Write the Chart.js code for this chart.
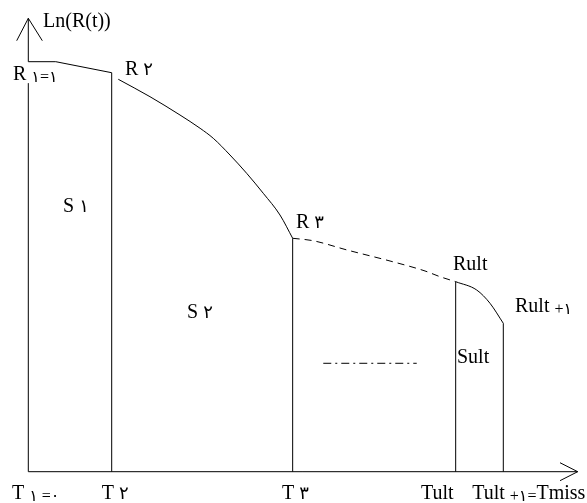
<!DOCTYPE html>
<html>
<head>
<meta charset="utf-8">
<script src="https://cdn.jsdelivr.net/npm/chart.js@4.4.0/dist/chart.umd.min.js"></script>
<style>
    body { margin: 0; background: #fff; }
</style>
</head>
<body>
<canvas id="lnRChart" width="587" height="503"></canvas>
<script>
// time marks on the horizontal axis (T1, T2, T3, Tult, Tult+1)
var tMarks = [0, 15.18, 48.12, 77.79, 86.46];
// Ln(R(t)) reached at each mark
var rMarks = [90.43, 88.0, 51.48, 41.91, 32.73];

// R1 -> R2 (nearly flat)
var seg1X = [0, 5.0, 15.18];
var seg1Y = [90.43, 90.43, 88.0];
// R2 -> R3
var seg2X = [16.38, 22.15, 27.61, 31.27, 33.67, 36.71, 39.75, 42.77, 45.81, 48.12];
var seg2Y = [86.55, 82.71, 78.67, 75.74, 73.53, 69.85, 65.81, 61.40, 56.62, 51.48];
// R3 -> Rult (dashed, intermediate steps)
var seg3X = [48.12, 51.82, 58.01, 65.84, 72.21, 74.94, 77.79];
var seg3Y = [51.48, 50.95, 48.90, 46.47, 44.27, 43.01, 41.91];
// Rult -> Rult+1
var seg4X = [77.79, 81.62, 84.04, 86.46];
var seg4Y = [41.91, 40.07, 37.14, 32.73];

// the "..." mark between T3 and Tult
var gapX = [53.69, 70.70];
var gapY = [23.91, 23.91];

var axisMax = 100;

var FA = "\u06F0\u06F1\u06F2\u06F3"; // persian digits 0..3
var d0 = FA[0], d1 = FA[1], d2 = FA[2], d3 = FA[3];

// labels: parts are [text, kind]  0 = normal, 1 = lowered small, 2 = digit
var notes = [
    {x: 2.68, y: 98.15, parts: [["Ln(R(t))", 0]]},
    {x: -2.78, y: 86.39, parts: [["R ", 0], [d1 + "=" + d1, 1]]},
    {x: 17.60, y: 87.49, parts: [["R ", 0], [d2, 2]]},
    {x: 6.32, y: 57.28, parts: [["S ", 0], [d1, 2]]},
    {x: 28.89, y: 33.90, parts: [["S ", 0], [d2, 2]]},
    {x: 48.73, y: 53.75, parts: [["R ", 0], [d3, 2]]},
    {x: 77.30, y: 44.49, parts: [["Rult", 0]]},
    {x: 88.59, y: 35.29, parts: [["Rult ", 0], ["+" + d1, 1]]},
    {x: 78.03, y: 23.97, parts: [["Sult", 0]]},
    {x: -2.97, y: -6.02, parts: [["T ", 0], [d1 + " =" + d0, 1]]},
    {x: 13.36, y: -6.02, parts: [["T ", 0], [d2, 2]]},
    {x: 46.18, y: -6.02, parts: [["T ", 0], [d3, 2]]},
    {x: 71.48, y: -6.02, parts: [["Tult", 0]]},
    {x: 80.80, y: -6.02, parts: [["Tult ", 0], ["+" + d1 + "=", 1], ["Tmiss", 0]]}
];

function pts(xs, ys) {
    var out = [];
    for (var i = 0; i < xs.length; i++) {
        out.push({x: xs[i], y: ys[i]});
    }
    return out;
}

function lineSet(data, extra) {
    var ds = {
        data: data,
        showLine: true,
        borderColor: "#000",
        borderWidth: 1,
        pointRadius: 0,
        tension: 0,
        clip: false,
        spanGaps: false
    };
    for (var k in extra) ds[k] = extra[k];
    return ds;
}

var smooth = {cubicInterpolationMode: "monotone"};

var datasets = [];
// axes with arrows
datasets.push(lineSet([{x: 0, y: 0}, {x: axisMax, y: 0}]));
datasets.push(lineSet([{x: axisMax - 3.22, y: 1.98}, {x: axisMax, y: 0}, {x: axisMax - 3.22, y: -1.98}]));
datasets.push(lineSet([{x: 0, y: 0}, {x: 0, y: 85.7}, {x: 0, y: null}, {x: 0, y: rMarks[0]}, {x: 0, y: axisMax}]));
datasets.push(lineSet([{x: -2.11, y: axisMax - 4.94}, {x: 0, y: axisMax}, {x: 2.55, y: axisMax - 4.94}]));
// verticals at T2..Tult+1
for (var i = 1; i < tMarks.length; i++) {
    datasets.push(lineSet([{x: tMarks[i], y: 0}, {x: tMarks[i], y: rMarks[i]}]));
}
datasets.push(lineSet(pts(seg1X, seg1Y)));
datasets.push(lineSet(pts(seg2X, seg2Y), smooth));
datasets.push(lineSet(pts(seg3X, seg3Y), {cubicInterpolationMode: "monotone", borderDash: [7, 5]}));
datasets.push(lineSet(pts(seg4X, seg4Y), smooth));
datasets.push(lineSet(pts(gapX, gapY), {borderDash: [8, 4, 2, 4]}));

var notePlugin = {
    id: "notes",
    afterDatasetsDraw: function(chart) {
        var ctx = chart.ctx;
        var xs = chart.scales.x, ys = chart.scales.y;
        ctx.save();
        ctx.fillStyle = "#000";
        ctx.textBaseline = "alphabetic";
        ctx.textAlign = "left";
        notes.forEach(function(n) {
            var px = xs.getPixelForValue(n.x);
            var py = ys.getPixelForValue(n.y);
            n.parts.forEach(function(p) {
                var size = p[1] == 1 ? 16 : (p[1] == 2 ? 18 : 20);
                var drop = p[1] == 1 ? 2 : 0;
                ctx.font = size + "px 'Liberation Serif', 'DejaVu Sans'";
                ctx.fillText(p[0], px, py + drop);
                px += ctx.measureText(p[0]).width;
            });
        });
        ctx.restore();
    }
};

var ctxC = document.getElementById("lnRChart");
var lnRChart = new Chart(ctxC, {
    type: "scatter",
    data: {datasets: datasets},
    options: {
        responsive: false,
        animation: false,
        events: [],
        layout: {padding: {left: 28.3, right: 9.3, top: 18.3, bottom: 31.3}},
        plugins: {legend: {display: false}, tooltip: {enabled: false}},
        scales: {
            x: {type: "linear", min: 0, max: axisMax, display: false},
            y: {type: "linear", min: 0, max: axisMax, display: false}
        }
    },
    plugins: [notePlugin]
});
</script>
</body>
</html>
